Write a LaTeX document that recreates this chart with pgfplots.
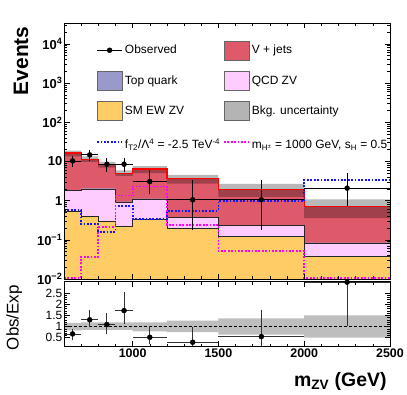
\documentclass[border=0pt]{standalone}
\usepackage{fontspec}
\setmainfont{Liberation Sans}
\usepackage{pgfplots}
\usepackage{pgfplotstable}
\pgfplotsset{compat=1.18}
\usepgfplotslibrary{fillbetween}

\definecolor{vjets}{RGB}{222,90,106}
\definecolor{topq}{RGB}{153,153,204}
\definecolor{qcdzv}{RGB}{255,204,255}
\definecolor{ewzv}{RGB}{255,204,102}
\definecolor{bkgunc}{RGB}{180,180,180}
\definecolor{ratioband}{RGB}{190,190,190}
\definecolor{sigblue}{RGB}{20,20,255}
\definecolor{sigmag}{RGB}{255,0,255}

% bin low edges; last row repeats the last bin for the step plots
\pgfplotstableread{
x     fl    total  ttop   qtop   etop   ft    mh
600   0.01  16.3   1.84   1.78   0.53   0.58  0.0108
700   0.01  11.4   2.06   2.00   0.39   0.25  0.037
800   0.01  8.2    2.06   2.00   0.29   0.16  0.21
900   0.01  5.0    0.94   0.91   0.22   0.74  1.35
1000  0.01  6.4    1.12   1.09   0.34   0.34  2.3
1200  0.01  3.6    0.38   0.37   0.20   0.55  0.24
1500  0.01  1.96   0.237  0.23   0.12   0.98  0.052
2000  0.01  0.71   0.085  0.082  0.038  3.4   0.0108
2500  0.01  0.71   0.085  0.082  0.038  3.4   0.0108
}\hist

% background uncertainty band outline: upper edge left to right, lower edge right to left
\pgfplotstableread{
x     y
600   18.9
700   18.9
700   13.45
800   13.45
800   9.68
900   9.68
900   5.9
1000  5.9
1000  7.62
1200  7.62
1200  4.54
1500  4.54
1500  2.67
2000  2.67
2000  1.07
2500  1.07
2500  0.355
2000  0.355
2000  1.25
1500  1.25
1500  2.7
1200  2.7
1200  4.99
1000  4.99
1000  4.25
900   4.25
900   6.97
800   6.97
800   9.69
700   9.69
700   13.5
600   13.5
}\band

\pgfplotstableread{
x     y
600   1.16
700   1.16
700   1.18
1000  1.18
1000  1.19
1200  1.19
1200  1.26
1500  1.26
1500  1.36
2000  1.36
2000  1.5
2500  1.5
2500  0.5
2000  0.5
2000  0.64
1500  0.64
1500  0.75
1200  0.75
1200  0.78
1000  0.78
1000  0.85
700   0.85
700   0.83
600   0.83
}\rband

\pgfplotsset{
  boxlegend/.style={legend image code/.code={\draw[##1] (0bp,-9.5bp) rectangle (25bp,9.5bp);}},
  linelegend/.style={legend image code/.code={\path[draw=none,fill=none] (0bp,-9.5bp) rectangle (25bp,9.5bp); \draw[##1] (0bp,0bp) -- (25bp,0bp);}},
  obslegend/.style={legend image code/.code={\draw[black, line width=0.8bp] (0bp,0bp) -- (25bp,0bp); \fill[black] (12.5bp,0bp) circle (2.5bp);}},
}

\begin{document}
\begin{tikzpicture}
\begin{axis}[
  at={(0,0)}, anchor=south west,
  scale only axis, width=326bp, height=256bp,
  xmin=600, xmax=2500, ymode=log, ymin=0.01, ymax=3.4e4,
  axis on top,
  tick align=inside, xtick pos=both, ytick pos=both,
  xtick={1000,1500,2000,2500}, minor xtick={600,700,...,2500}, xticklabels={},
  ytick={0.01,0.1,1,10,100,1000,10000},
  yticklabels={\textbf{10\textsuperscript{−2}},\textbf{10\textsuperscript{−1}},\textbf{1},\textbf{10},\textbf{10\textsuperscript{2}},\textbf{10\textsuperscript{3}},\textbf{10\textsuperscript{4}}},
  minor ytick={0.02,0.03,0.04,0.05,0.06,0.07,0.08,0.09,0.2,0.3,0.4,0.5,0.6,0.7,0.8,0.9,2,3,4,5,6,7,8,9,20,30,40,50,60,70,80,90,200,300,400,500,600,700,800,900,2000,3000,4000,5000,6000,7000,8000,9000,20000,30000},
  major tick length=5.5bp, minor tick length=3bp,
  every tick/.style={black, line width=0.5bp},
  axis line style={line width=0.8bp},
  yticklabel style={font=\fontsize{13}{15}\selectfont, inner xsep=1.5bp},
  ylabel={\textbf{Events}},
  ylabel style={font=\fontsize{21}{24}\selectfont, at={(axis description cs:-0.132,1)}, anchor=east},
  legend columns=2,
  legend cell align=left,
  legend style={at={(axis description cs:0.089,0.94)}, anchor=north west, draw=none, fill=none,
    font=\fontsize{12}{14}\selectfont, row sep=11bp,
    /tikz/every even column/.append style={column sep=1bp}},
]
% floor of the stack
\addplot[const plot, draw=none, name path=floor, forget plot] table[x=x,y=fl]{\hist};
% stacked backgrounds (cumulative tops)
\addplot[const plot, draw=none, name path=tot, forget plot] table[x=x,y=total]{\hist};
\addplot[const plot, draw=none, name path=ttp, forget plot] table[x=x,y=ttop]{\hist};
\addplot[const plot, draw=none, name path=qtp, forget plot] table[x=x,y=qtop]{\hist};
\addplot[const plot, draw=none, name path=etp, forget plot] table[x=x,y=etop]{\hist};
\addplot[fill=vjets, draw=none, forget plot] fill between[of=tot and floor];
\addplot[fill=topq, draw=none, forget plot] fill between[of=ttp and floor];
\addplot[fill=qcdzv, draw=none, forget plot] fill between[of=qtp and floor];
\addplot[fill=ewzv, draw=none, forget plot] fill between[of=etp and floor];
\addplot[const plot, black!85, line width=0.6bp, forget plot] table[x=x,y=qtop]{\hist};
\addplot[const plot, black!85, line width=0.6bp, forget plot] table[x=x,y=etop]{\hist};
% background uncertainty
\addplot[fill=black, fill opacity=0.28, draw=none, forget plot] table[x=x,y=y]{\band} -- cycle;
\addplot[const plot, red, line width=1.2bp, forget plot] table[x=x,y=total]{\hist};
% signals
\addplot[const plot, sigblue, line width=1.8bp, dash pattern=on 1.8bp off 1.6bp, forget plot] table[x=x,y=ft]{\hist};
\addplot[const plot, sigmag, line width=1.8bp, dash pattern=on 1.8bp off 1.6bp, forget plot] table[x=x,y=mh]{\hist};
% observed
\addplot[black, only marks, mark=*, mark size=2.5bp, forget plot,
  error bars/.cd, x dir=both, x explicit, y dir=both, y explicit,
  error bar style={line width=0.8bp, black}, error mark=none]
coordinates {
 (650,10.3) += (50,3.6) -= (50,3.2)
 (750,14.7) += (50,4.3) -= (50,4.2)
 (850,8.5) += (50,3.6) -= (50,3.0)
 (950,8.5) += (50,3.6) -= (50,3.0)
 (1100,3.07) += (100,3.03) -= (100,1.61)
 (1350,1.05) += (150,2.25) -= (150,0.87)
 (1750,1.05) += (250,2.35) -= (250,0.87)
 (2250,2.08) += (250,2.92) -= (250,1.37)
};
% legend
\addlegendimage{obslegend}
\addlegendentry{Observed}
\addlegendimage{boxlegend, fill=vjets, draw=black!60}
\addlegendentry{V + jets}
\addlegendimage{boxlegend, fill=topq, draw=black!60}
\addlegendentry{Top quark}
\addlegendimage{boxlegend, fill=qcdzv, draw=black!60}
\addlegendentry{QCD ZV}
\addlegendimage{boxlegend, fill=ewzv, draw=black!60}
\addlegendentry{SM EW ZV}
\addlegendimage{boxlegend, fill=bkgunc, draw=black!60}
\addlegendentry{Bkg. uncertainty}
\addlegendimage{linelegend, sigblue, line width=1.8bp, dash pattern=on 1.8bp off 1.6bp}
\addlegendentry{\rule{0pt}{15bp}f\textsubscript{T2}/Λ\textsuperscript{4} = -2.5 TeV\textsuperscript{-4}}
\addlegendimage{linelegend, sigmag, line width=1.8bp, dash pattern=on 1.8bp off 1.6bp}
\addlegendentry{\rule{0pt}{15bp}m\textsubscript{H\textsuperscript{±}} = 1000 GeV, s\textsubscript{H} = 0.5}
\node[anchor=base west, font=\fontsize{18}{20}\selectfont\bfseries, inner sep=0pt] at (rel axis cs:0,1) [yshift=3bp] {CMS};
\node[anchor=base east, font=\fontsize{12.5}{14}\selectfont, inner sep=0pt] at (rel axis cs:1,1) [yshift=4bp] {35.9 fb\textsuperscript{-1} (13 TeV)};
\end{axis}

\begin{axis}[
  at={(0,-2.7bp)}, anchor=north west,
  scale only axis, width=326bp, height=65bp,
  xmin=600, xmax=2500, ymin=0.1, ymax=3,
  axis on top,
  tick align=inside, xtick pos=both, ytick pos=both,
  xtick={1000,1500,2000,2500},
  xticklabels={\textbf{1000},\textbf{1500},\textbf{2000},\textbf{2500}},
  minor xtick={600,700,...,2500},
  ytick={0.5,1,1.5,2,2.5}, yticklabels={0.5,1,1.5,2,2.5},
  minor y tick num=4,
  major tick length=5.5bp, minor tick length=3bp,
  every tick/.style={black, line width=0.5bp},
  axis line style={line width=0.8bp},
  xticklabel style={font=\fontsize{12.5}{14}\selectfont, inner ysep=1.5bp},
  yticklabel style={font=\fontsize{12}{13}\selectfont, inner xsep=1.5bp},
  xlabel={\textbf{m\textsubscript{ZV} (GeV)}},
  xlabel style={font=\fontsize{19.5}{22}\selectfont, at={(axis description cs:1,-0.605)}, anchor=base east},
  ylabel={Obs/Exp},
  ylabel style={font=\fontsize{17}{20}\selectfont, at={(axis description cs:-0.153,1)}, anchor=east},
]
\addplot[fill=ratioband, draw=none] table[x=x,y=y]{\rband} -- cycle;
\addplot[black, line width=0.6bp, dash pattern=on 3bp off 2bp] coordinates {(600,1) (2500,1)};
\addplot[black, only marks, mark=*, mark size=2.5bp,
  error bars/.cd, x dir=both, x explicit, y dir=both, y explicit,
  error bar style={line width=0.8bp, black!80}, error mark=none]
coordinates {
 (650,0.67) += (50,0.23) -= (50,0.26)
 (750,1.30) += (50,0.45) -= (50,0.33)
 (850,1.09) += (50,0.52) -= (50,0.42)
 (950,1.71) += (50,0.85) -= (50,0.59)
 (1100,0.52) += (100,0.52) -= (100,0.30)
 (1350,0.30) += (150,0.70) -= (150,0.30)
 (1750,0.55) += (250,1.20) -= (250,0.55)
 (2250,2.98) += (250,1.00) -= (250,1.96)
};
\end{axis}
\pgfresetboundingbox
\path[use as bounding box] (-64bp,-116bp) rectangle (343bp,279bp);
\end{tikzpicture}
\end{document}
